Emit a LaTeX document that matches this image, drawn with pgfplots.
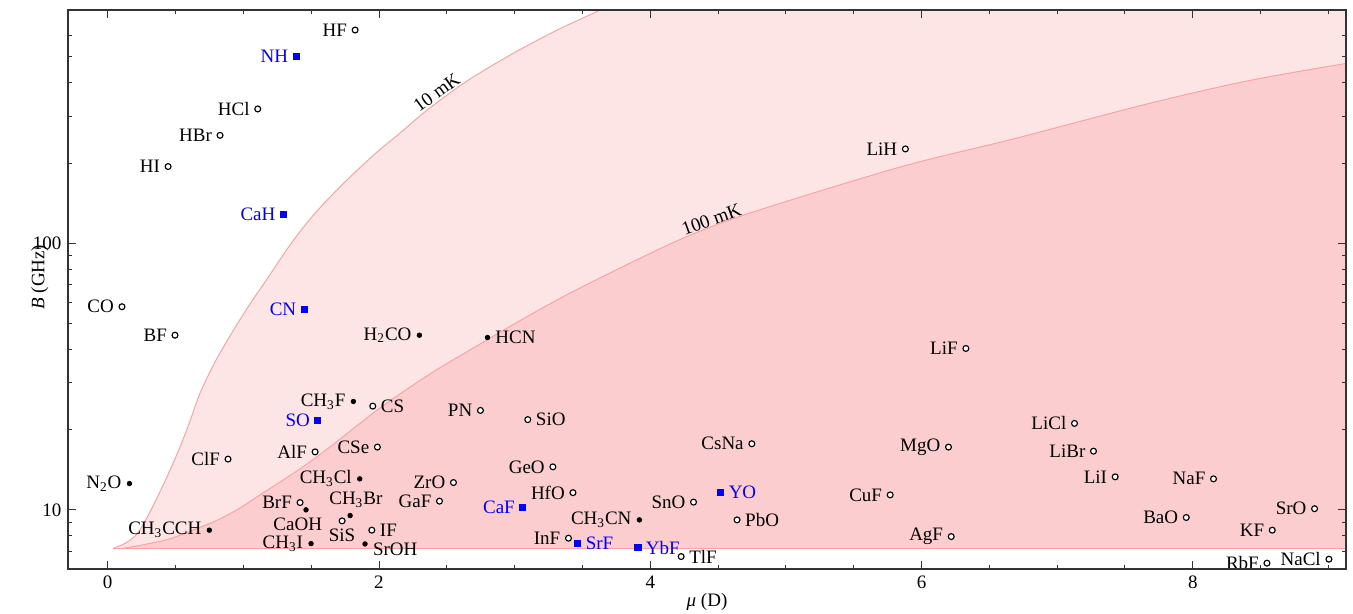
\documentclass[border=0pt]{standalone}
\usepackage{fontspec}
\setmainfont{Liberation Serif}
\usepackage{pgfplots}
\pgfplotsset{compat=1.18}
\usepgfplotslibrary{fillbetween}
\definecolor{pinklight}{HTML}{FDE4E5}
\definecolor{pinkdark}{HTML}{FBCDCE}
\definecolor{pinkline}{HTML}{F7A3A3}
\definecolor{molblue}{HTML}{0000FF}

\pgfplotsset{
  mol labels/.style={
    nodes near coords,
    point meta=explicit symbolic,
    visualization depends on={value \thisrow{anc}\as\myanchor},
    every node near coord/.append style={anchor=\myanchor, inner sep=4pt, font=\normalsize},
  },
}

\begin{document}
\begin{tikzpicture}
\begin{axis}[
  scale only axis,
  width=672.6pt, height=294.2pt,
  xmin=-0.293, xmax=9.13,
  ymode=log, ymin=6.0, ymax=750,
  xtick={0,2,4,6,8},
  minor xtick={0.5,1,1.5,2.5,3,3.5,4.5,5,5.5,6.5,7,7.5,8.5,9},
  ytick={10,100}, yticklabels={10,100},
  minor ytick={7,8,9,20,30,40,50,60,70,80,90,200,300,400,500,600},
  tick align=inside,
  major tick length=4.4pt, minor tick length=2.3pt,
  axis line style={black!80, line width=0.6pt},
  every tick/.style={black!80, line width=0.5pt},
  tick label style={/pgf/number format/assume math mode=true},
  xlabel={\textit{μ} (D)}, ylabel={\textit{B} (GHz)},
  xlabel style={at={(axis description cs:0.5,-0.059)}, anchor=center},
  ylabel style={at={(axis description cs:-0.022,0.522)}, anchor=center},
  axis on top,
]

% 10 mK boundary
\addplot[name path=c10, pinkline, line width=0.5pt, smooth] coordinates {
  (0.041,7.18) (0.128,7.49) (0.216,8.13) (0.312,9.83) (0.437,13.30)
  (0.533,17.23) (0.607,21.56) (0.681,27.46) (0.791,35.88) (0.924,46.92)
  (1.049,59.21) (1.175,73.5) (1.344,98.5) (1.492,123.3) (1.639,149.1)
  (1.787,177.3) (1.986,219.9) (2.156,259.2) (2.355,316.1) (2.649,406.1)
  (2.967,508.2) (3.299,625.2) (3.631,749.6) (3.926,883)
};
\addplot[name path=b10, draw=none] coordinates {(0.041,7.18) (9.6,7.18) (9.6,900)};
\addplot[pinklight] fill between[of=c10 and b10];

% 100 mK boundary
\addplot[name path=c100, pinkline, line width=0.5pt, smooth] coordinates {
  (0.115,7.18) (0.275,7.42) (0.459,7.79) (0.681,8.60) (0.828,9.25)
  (0.976,10.17) (1.123,11.38) (1.418,14.25) (1.639,17.23) (2.008,24.12)
  (2.377,32.36) (2.746,41.92) (3.114,53.86) (3.483,68.0) (4.196,102.0)
  (4.737,129.9) (5.843,193.2) (6.676,246.1) (7.662,333.0) (8.400,406.1)
  (9.137,473.2) (9.530,506)
};
\addplot[name path=b100, draw=none] coordinates {(0.115,7.18) (9.6,7.18) (9.6,520)};
\addplot[pinkdark] fill between[of=c100 and b100];

\addplot[pinkline, line width=0.5pt] coordinates {(0.041,7.18) (9.6,7.18)};

% diatomics (open circles)
\addplot[only marks, mark=*, mark size=1.55pt,
  mark options={fill=white, draw=black, line width=0.6pt}, mol labels]
  table[meta=label] {
x y label anc
1.824 630.7 HF east
1.106 319 HCl east
0.828 254 HBr east
0.445 194 HI east
0.105 57.8 CO east
0.496 45.2 BF east
1.954 24.5 CS west
2.748 23.6 PN east
1.529 16.5 AlF east
1.988 17.2 CSe east
0.887 15.5 ClF east
2.549 12.66 ZrO east
1.418 10.65 BrF east
2.446 10.78 GaF east
1.728 9.09 SiS north
1.947 8.39 IF west
3.097 21.8 SiO west
3.282 14.5 GeO east
3.430 11.6 HfO east
4.319 10.69 SnO east
4.640 9.17 PbO west
4.749 17.7 CsNa east
3.397 7.83 InF east
4.228 6.68 TlF west
5.769 11.38 CuF east
6.327 40.3 LiF east
7.128 21.1 LiCl east
6.199 17.2 MgO east
7.268 16.6 LiBr east
7.428 13.3 LiI east
8.153 13.07 NaF east
7.952 9.36 BaO east
8.898 10.1 SrO east
8.586 8.39 KF east
6.219 7.94 AgF east
8.547 6.31 RbF east
9.004 6.53 NaCl east
5.881 225.8 LiH east
};

% polyatomics (filled dots)
\addplot[only marks, mark=*, mark size=1.2pt, black, mol labels]
  table[meta=label] {
x y label anc
1.811 25.5 CH\textsubscript{3}F east
2.298 45.2 H\textsubscript{2}CO east
2.800 44.3 HCN west
0.160 12.55 N\textsubscript{2}O east
0.749 8.39 CH\textsubscript{3}CCH east
1.462 10.0 CaOH 60
1.858 13.07 CH\textsubscript{3}Cl east
1.787 9.52 CH\textsubscript{3}Br 250
1.499 7.47 CH\textsubscript{3}I east
1.897 7.45 SrOH 170
3.920 9.17 CH\textsubscript{3}CN east
};

% blue squares
\addplot[only marks, mark=square*, mark size=1.6pt, molblue, mol labels,
  every node near coord/.append style={text=molblue}]
  table[meta=label] {
x y label anc
1.389 501 NH east
1.295 128.5 CaH east
1.448 56.7 CN east
1.549 21.6 SO east
3.060 10.2 CaF east
3.466 7.50 SrF west
3.909 7.22 YbF west
4.520 11.65 YO west
};

\node[rotate=36, anchor=south, inner sep=1pt] at (axis cs:2.463,346.7) {10 mK};
\node[rotate=20, anchor=south, inner sep=0.5pt] at (axis cs:4.471,115.4) {100 mK};
\end{axis}
\pgfresetboundingbox
\path[use as bounding box] ([shift={(-35.79pt,-23.68pt)}]current axis.south west)
  rectangle ([shift={(3.68pt,5.26pt)}]current axis.north east);
\end{tikzpicture}
\end{document}
